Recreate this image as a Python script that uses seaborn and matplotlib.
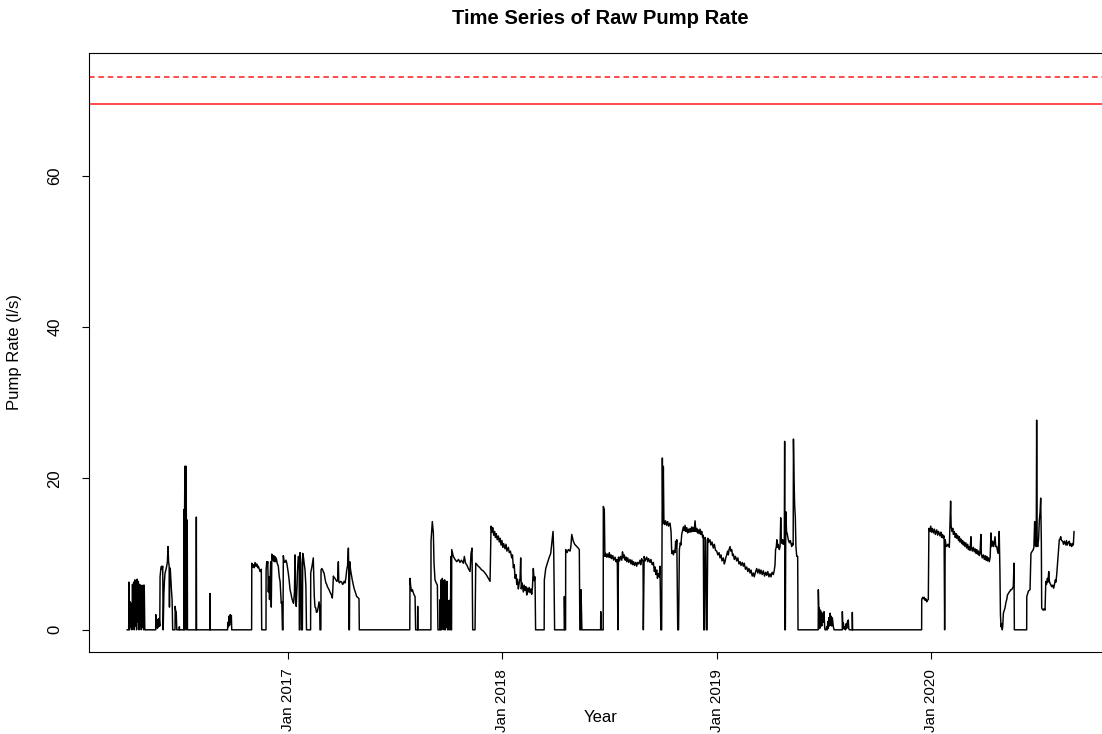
"""
Time series of raw pump rate with the two red reference levels.
"""
import numpy as np
import pandas as pd
import matplotlib
matplotlib.use('Agg')
import matplotlib.pyplot as plt
import matplotlib.dates as mdates
import seaborn as sns

# ── data: (day since 2016-01-01, pump rate l/s) ──
START = '2016-01-01'

pump_2016 = [
    (91, 0), (94, 0), (94.5, 6.3), (95.5, 0), (96.5, 3.7), (97.5, 0.4), (98.5, 3.5), (99.5, 0),
    (100.5, 6.0), (101.5, 0.8), (102.5, 6.3), (103.5, 0), (104.5, 6.6), (105.5, 0.5), (106.5, 6.2),
    (107.5, 0), (108.5, 6.7), (109.5, 1.0), (110.5, 6.4), (111.5, 0), (112.5, 6.0), (113.5, 0.5),
    (114.5, 5.9), (115.5, 0), (116.5, 5.8), (117.5, 0.3), (118.5, 5.9), (119.5, 0), (120.5, 5.9),
    (121.5, 0), (122, 0),
    (140, 0), (140.2, 2.0), (141, 0.3), (142, 1.2), (143, 0.2), (144, 1.4), (145, 0.4), (146, 1.5),
    (147, 0.5), (147.5, 7.0), (149, 8.2), (150, 8.4), (151, 8.0), (152, 8.4), (152.8, 0), (154, 4.8),
    (155, 6.5), (156, 7.5), (157, 7.8), (158, 8.1), (159, 8.5), (160, 9.0), (161, 11.0), (162, 9.0),
    (163, 8.4), (163.5, 3.0), (164, 8.2), (165, 7.9), (166, 6.5), (167, 5.1), (168, 4.0), (169, 0),
    (173, 0), (173.2, 3.1), (174, 2.5), (175, 2.4), (176, 0), (180, 0), (180.3, 0.4), (181, 0),
    (188, 0), (188.3, 15.9), (188.8, 0), (189.3, 16.0), (189.8, 21.6), (190.3, 0), (190.8, 21.6),
    (191.3, 1.0), (191.8, 21.6), (192.3, 14.5), (192.8, 0), (193.3, 14.5), (193.8, 14.5), (194.2, 0),
    (208.9, 0), (209.3, 14.9), (209.7, 0), (232.3, 0), (232.6, 4.8), (232.9, 0),
    (262.5, 0), (263, 1.0), (264, 0.4), (265, 1.8), (266, 0.6), (267, 2.0), (268, 1.0), (269, 1.9),
    (269.6, 0),
    (303.5, 0), (303.8, 8.8), (305, 8.3), (306.4, 8.6), (308, 8.2), (309.3, 8.9), (311, 8.4),
    (312.2, 8.7), (314, 8.2), (315, 8.4), (317, 7.9), (318, 7.7), (320, 8.0), (320.7, 0),
    (328, 0), (328.2, 7.9), (329.3, 9.0), (330, 8.5), (331, 9.0), (332, 5.0), (333, 7.0), (334, 4.0),
    (335, 6.6), (336, 9.0), (337, 3.0), (338, 10.0), (339, 9.5), (340, 9.2), (341, 9.8), (342, 9.0),
    (343, 9.7), (344, 9.0), (345, 9.5), (346, 9.3), (347, 8.8), (348, 8.6), (349, 8.4), (350, 7.5),
    (351, 6.8), (352, 6.4), (353, 5.0), (354, 3.5), (355, 3.7), (356, 0),
]

pump_2017 = [
    (357, 0), (357.5, 9.8), (359, 9.0), (360.5, 8.9), (362, 9.2), (363.5, 8.8), (365, 8.0), (366, 7.5),
    (367.5, 6.5), (369, 5.3), (370.5, 4.8), (372, 4.2), (373.5, 3.8), (375, 3.5), (376.5, 5.0),
    (377.5, 9.9), (378.5, 4.0), (379.5, 3.1), (381, 6.0), (381.5, 7.5), (383, 9.7), (384.5, 8.0),
    (384.8, 0), (385.5, 0), (386, 10.2), (387.5, 8.8), (388.5, 0), (390, 0), (390.6, 10.1), (392, 9.5),
    (393, 8.8), (394.5, 7.9), (396, 5.7), (397, 0), (404, 0), (404.2, 7.5), (406.4, 8.4), (408.6, 9.5),
    (409.5, 7.0), (410.3, 4.4), (411.5, 3.0), (412.8, 2.9), (414, 2.3), (415.5, 2.4), (417, 3.0),
    (418.4, 3.7), (419.5, 3.0), (420, 0), (421.5, 0), (421.8, 7.9), (423, 8.1), (424.7, 7.9),
    (426, 7.6), (427, 7.5), (428.5, 6.8), (430, 6.2), (431.5, 6.0), (432.6, 5.7), (434, 5.5),
    (435.4, 5.3), (437, 5.0), (438.3, 4.8), (440, 4.5), (441, 4.2), (442, 5.5), (442.8, 7.1),
    (444, 6.9), (445.6, 6.8), (447, 6.6), (448.5, 6.4), (450, 6.5), (451.3, 9.0), (452, 6.4),
    (453, 6.2), (455, 6.4), (457, 6.3), (458.5, 6.0), (459.8, 6.1), (461, 6.4), (462.7, 6.2),
    (464, 6.8), (465.6, 7.9), (467, 8.5), (468.4, 10.8), (469, 8.0), (469.5, 0), (470.2, 0),
    (470.7, 9.0), (472, 8.0), (473, 7.5), (475, 6.6), (476.8, 5.9), (478, 5.5), (479.7, 5.1),
    (481, 4.8), (482.6, 4.4), (484, 4.3), (485.4, 4.2), (486.5, 4.1), (487, 0),
    (573, 0), (573.4, 6.8), (574.5, 5.8), (576, 5.1), (577.5, 5.3), (579, 4.9), (580.5, 4.6),
    (582, 4.4), (583, 0), (586.3, 0), (586.5, 3.1), (586.8, 0),
    (609, 0), (609.2, 11.7), (611.4, 14.3), (613.2, 12.8), (614.3, 8.8), (616, 6.6), (618, 6.2),
    (620, 5.9), (621, 0),
    (624.5, 0), (624.8, 4.0), (625.5, 0), (626.5, 6.6), (627.5, 0), (628.5, 6.8), (629.5, 0.5),
    (630.5, 6.5), (631.5, 0), (632.5, 6.6), (633.5, 0), (634.5, 6.2), (635.5, 0.3), (636.5, 6.4),
    (637.5, 0), (638.5, 3.8), (639.5, 0), (640.5, 3.9), (641.5, 0), (642.5, 4.0), (643, 9.7),
    (643.6, 0), (644.2, 0), (644.5, 10.6),
    (647.2, 9.7), (650.1, 9.3), (653, 9.0), (656, 9.3), (658.6, 8.9), (661, 9.2), (664.3, 8.8),
    (666, 9.7), (668, 8.8), (670, 8.6), (672.8, 8.1), (675.7, 7.7), (677.4, 10.1), (679.1, 10.8),
    (680.2, 0), (684.2, 0), (685.4, 8.8), (687.5, 8.6), (689.8, 8.4), (692.5, 8.2), (695.6, 7.9),
    (698, 7.8), (701.2, 7.5), (704, 7.2), (706.8, 6.8), (709.8, 6.4),
    (711.5, 13.7), (713, 12.9), (714.4, 13.5), (716, 12.5), (717.5, 13.0), (719, 12.2),
    (720.5, 12.7), (722, 11.9), (723.9, 12.4), (725.5, 11.6), (727, 12.1), (728.5, 11.2),
    (730, 11.8),
]

pump_2018 = [
    (731.5, 10.9), (733, 11.4), (735.3, 10.7), (737, 11.3), (738.5, 10.4), (741, 10.9),
    (742.5, 10.2), (744.5, 10.4), (746.7, 9.5), (748, 9.9), (749.5, 8.2), (751, 8.6), (752.4, 6.8),
    (754, 7.3), (755.3, 6.0), (756.5, 6.7), (758, 5.4), (759.5, 6.2), (760.9, 6.8), (762, 9.5),
    (763, 5.4), (764.5, 6.2), (766.5, 5.0), (768, 5.9), (769.4, 5.2), (771, 5.7), (772.3, 4.6),
    (773.5, 5.5), (775, 5.0), (776.5, 5.6), (777.9, 4.9), (779.5, 5.4), (780.8, 4.7), (782, 5.6),
    (783.5, 8.1), (785, 6.5), (786.4, 7.0), (787.4, 0),
    (802, 0), (802.3, 6.6), (804.7, 8.1), (807.4, 8.8), (810.3, 9.5), (813.2, 10.1), (815.4, 11.7),
    (817.1, 13.0), (818.3, 10.4), (819.8, 0),
    (836.2, 0), (836.4, 4.4), (837.2, 0), (838.5, 0), (838.7, 10.6), (841, 10.2), (843.2, 10.6),
    (846.1, 10.4), (847.5, 11.0), (849, 12.6), (851.7, 11.7), (854, 11.3), (857.5, 11.0),
    (860, 10.8), (861.9, 10.6), (862.8, 0), (864.5, 0), (864.8, 5.3), (866.3, 0),
    (898.2, 0), (898.4, 2.4), (899.5, 0), (902.6, 0), (902.8, 16.3), (904.5, 15.9), (905.5, 9.7),
    (907, 10.1), (908.5, 9.6), (910, 10.0), (911.3, 9.6), (913, 10.2), (914.5, 9.5), (916, 9.9),
    (917.1, 9.4), (919, 9.8), (920.5, 9.2), (922.8, 9.6), (924.5, 9.0), (926, 9.3), (926.7, 8.6),
    (927.6, 0), (928.6, 9.6), (930.5, 9.1), (932, 9.7), (934.2, 9.2), (935.5, 10.3), (936.9, 9.5),
    (938.5, 9.9), (940, 9.2), (941.5, 9.6), (942.7, 9.0), (944.5, 9.5), (946, 8.9), (948.3, 9.3),
    (950, 8.7), (951.5, 9.2), (953, 8.6), (954.5, 9.0), (956, 8.5), (958, 8.9), (959.7, 8.4),
    (961, 8.9), (963, 8.7), (965.4, 9.2), (966.5, 8.6), (968.2, 9.4), (970.5, 9.0), (971, 0),
    (972.4, 9.7), (974, 9.1), (976.8, 9.6), (978.5, 9.0), (980, 9.4), (982.4, 8.9), (984, 9.3),
    (986, 8.6), (988.1, 8.9), (989.8, 7.7), (991, 8.3), (992.5, 7.3), (993.8, 7.9), (995, 6.8),
    (996.5, 7.4), (998, 7.0), (999.4, 8.4), (1000.8, 0), (1002.2, 0), (1003.4, 22.7), (1004.3, 14.0),
    (1005.1, 21.6), (1006, 14.6), (1007.5, 13.9), (1009, 14.4), (1010.8, 13.8), (1012.5, 14.3),
    (1014, 13.7), (1016.5, 14.1), (1018.2, 13.0), (1019.4, 10.1), (1020.5, 10.4), (1022.2, 9.9),
    (1023.5, 10.5), (1025, 10.2), (1026, 11.7), (1027, 10.8), (1028, 11.9), (1029.6, 0), (1031, 0),
    (1032.4, 10.6), (1034, 11.5), (1035, 11.2), (1036.4, 12.6), (1037.8, 13.1), (1039.2, 13.6),
    (1040.5, 13.1), (1042.1, 13.8), (1043.5, 13.0), (1045, 13.5), (1046.5, 12.8), (1047.7, 13.3),
    (1049, 12.9), (1050.6, 13.4), (1052, 12.9), (1053.5, 13.6), (1055, 13.0), (1056.2, 13.5),
    (1057.5, 13.0), (1059.1, 14.4), (1060.5, 13.0), (1062, 13.4), (1063.3, 12.8), (1064.7, 13.2),
    (1066, 12.7), (1067.6, 13.3), (1069, 12.6), (1070.5, 13.0), (1072, 12.2), (1073.2, 12.5),
    (1074, 0), (1075, 0), (1076.2, 12.2), (1077.5, 11.8), (1078.5, 0), (1079.5, 0), (1080.8, 12.1),
    (1082.5, 11.6), (1084.6, 11.9), (1086, 11.2), (1088, 11.6), (1090.2, 10.8), (1092, 11.3),
    (1094, 10.5),
]

pump_2019 = [
    (1096, 10.4), (1098, 9.9), (1100, 10.2), (1101.7, 9.5), (1103.5, 9.9), (1105, 9.1),
    (1107.4, 9.5), (1109, 8.7), (1110.2, 9.0), (1111.5, 9.5), (1113.1, 9.9), (1114.5, 10.4),
    (1115.9, 9.9), (1117, 10.6), (1118.7, 11.0), (1120, 10.4), (1121.6, 10.6), (1123, 9.8),
    (1124.4, 10.0), (1126, 9.3), (1128, 9.7), (1130.1, 9.1), (1132, 9.5), (1134, 8.7),
    (1135.8, 9.0), (1137.5, 8.5), (1139.5, 8.9), (1141.4, 8.4), (1143, 8.8), (1145, 8.0),
    (1147.2, 8.3), (1149, 7.7), (1151, 8.1), (1152.8, 7.5), (1154.5, 7.9), (1156.5, 7.1),
    (1158.4, 7.5), (1160, 7.0), (1162, 7.6), (1164.2, 8.1), (1166, 7.5), (1168, 8.0), (1169.8, 7.4),
    (1171.5, 7.9), (1173.5, 7.3), (1175.5, 7.8), (1177.5, 7.1), (1179.5, 7.6), (1181.2, 7.2),
    (1183, 7.7), (1185, 7.0), (1186.9, 7.4), (1188.5, 7.0), (1190.5, 7.6), (1192.5, 7.3),
    (1194, 7.8), (1195.4, 8.6), (1196.3, 10.6), (1197.5, 10.9), (1198.5, 11.9), (1199.5, 10.9),
    (1200.8, 11.3), (1202.7, 10.6), (1204, 11.0), (1205.1, 14.8), (1206, 11.9), (1207.5, 11.4),
    (1208.5, 11.9), (1209.6, 11.3), (1211.2, 11.6), (1211.8, 24.9), (1212.3, 0), (1213, 0),
    (1213.8, 15.6), (1215, 13.0), (1216.4, 12.6), (1218, 11.9), (1219.8, 11.5), (1221.5, 11.8),
    (1223.8, 11.0), (1225, 11.4), (1226.3, 11.2), (1226.8, 25.2), (1227.8, 19.8), (1228.8, 16.5),
    (1230, 14.8), (1231, 11.0), (1232.4, 9.7), (1234, 9.7), (1234.6, 0),
    (1269, 0), (1269.2, 5.3), (1270, 2.8), (1270.9, 2.9), (1271.7, 0.2), (1272.5, 2.6),
    (1273.8, 2.4), (1275, 0.5), (1275.8, 2.2), (1276.7, 2.2), (1278, 1.0), (1278.9, 2.4),
    (1280, 0.3), (1280.6, 0), (1282.5, 0), (1283.5, 0.4), (1284.5, 0), (1285.3, 1.1), (1286.2, 0.2),
    (1287, 1.6), (1288, 0.5), (1289.1, 2.2), (1290, 0.6), (1291, 1.8), (1292, 0.5), (1293, 1.6),
    (1294.8, 0.4), (1296, 0), (1310, 0), (1310.1, 2.4), (1311, 0.2), (1311.8, 0.9), (1313, 0.1),
    (1314.7, 0.4), (1315.5, 0), (1316.5, 0.8), (1317.6, 0.2), (1318.5, 1.0), (1320.3, 1.3),
    (1321, 0.2), (1322, 0), (1327, 0), (1327.1, 2.3), (1327.6, 0),
    (1445.2, 0), (1445.4, 4.0), (1447, 4.3), (1448.1, 4.1), (1449.5, 4.3), (1451, 3.9),
    (1452.5, 4.1), (1453.9, 3.7), (1455, 3.9), (1456.6, 4.0), (1457.6, 13.4), (1459, 13.0),
]

pump_2020 = [
    (1460.7, 13.7), (1462, 12.9), (1463.5, 13.4), (1465.2, 12.8), (1467, 13.3), (1468.5, 12.6),
    (1470.9, 13.2), (1472.5, 12.5), (1474, 13.0), (1476.6, 12.4), (1478, 12.9), (1479.5, 12.2),
    (1481, 12.6), (1482.2, 12.1), (1483.5, 12.4), (1484.4, 0), (1485.4, 11.9), (1486.5, 11.3),
    (1488, 11.0), (1490, 11.3), (1492.4, 10.9), (1494.6, 17.0), (1495.5, 13.7), (1497, 13.0),
    (1498.3, 13.4), (1499.3, 12.6), (1501, 13.0), (1502.5, 12.2), (1504, 12.7), (1505, 12.1),
    (1506.5, 12.5), (1508, 11.8), (1509.5, 12.3), (1510.6, 11.6), (1512, 12.0), (1513.5, 11.4),
    (1515, 11.8), (1516.2, 11.2), (1517.5, 11.6), (1519, 11.0), (1520.5, 11.5), (1522.1, 10.8),
    (1523.5, 11.3), (1525, 10.6), (1526.5, 11.0), (1527.7, 10.5), (1529.3, 12.3), (1530, 10.9),
    (1531.5, 10.4), (1533.3, 10.9), (1535, 10.3), (1536.5, 10.7), (1538, 10.1), (1539.1, 10.6),
    (1540.5, 10.0), (1542, 10.4), (1543.5, 9.8), (1544.7, 10.2), (1546.2, 12.6), (1547, 10.0),
    (1548.5, 9.5), (1550.4, 9.9), (1552, 9.3), (1553.5, 9.8), (1555, 9.2), (1556.1, 9.7),
    (1557.5, 9.1), (1559, 9.5), (1560.5, 9.0), (1562, 9.6), (1563.4, 12.8), (1564.5, 11.0),
    (1566.3, 11.7), (1568, 11.0), (1570.3, 12.3), (1571.5, 11.0), (1573.2, 11.0), (1574.5, 10.4),
    (1575.8, 10.1), (1577.4, 13.0), (1578.6, 7.9), (1579.5, 2.0), (1580.5, 0.4), (1581.5, 0.8),
    (1582.7, 0), (1583.5, 0.6), (1584.5, 2.2), (1586, 2.6), (1587.3, 2.9), (1588.8, 3.6),
    (1590.2, 4.0), (1591.5, 4.6), (1592.9, 4.8), (1594.5, 5.0), (1595.8, 5.1), (1597, 5.3),
    (1598.7, 5.3), (1600, 5.5), (1601.4, 5.7), (1602.6, 8.8), (1603.2, 0), (1624.2, 0),
    (1624.4, 4.4), (1626, 4.8), (1627, 5.1), (1628.5, 5.2), (1629.9, 5.3), (1631.5, 10.1),
    (1633, 10.3), (1635.5, 10.6), (1636.5, 10.9), (1637.8, 14.3), (1638.8, 11.2), (1640.5, 11.0),
    (1641.2, 27.7), (1642, 11.5), (1643, 11.0), (1644.5, 12.0), (1645.8, 14.5), (1647, 15.5),
    (1648.1, 17.4), (1649.2, 11.5), (1649.8, 2.9), (1651, 2.7), (1652.6, 2.6), (1654, 2.8),
    (1655.5, 2.6), (1656.8, 6.4), (1658, 6.0), (1659.5, 6.8), (1660.5, 6.3), (1661.8, 7.7),
    (1662.8, 6.5), (1664, 6.1), (1665.2, 6.0), (1666.5, 5.7), (1668.6, 5.9), (1670, 5.5),
    (1670.8, 5.7), (1672, 6.2), (1673.1, 6.6), (1674, 6.3), (1675.4, 7.3), (1676.5, 8.5),
    (1677.6, 9.9), (1678.8, 11.0), (1679.8, 11.9), (1681, 12.0), (1682.2, 12.3), (1683.5, 11.8),
    (1685.6, 11.7), (1687, 11.3), (1688.5, 11.7), (1689.5, 11.5), (1691, 11.2), (1692, 11.8),
    (1693.5, 11.2), (1695, 11.5), (1696.9, 11.7), (1698, 11.1), (1699.5, 11.4), (1701, 11.0),
    (1702.5, 11.4), (1703.7, 11.2), (1704.9, 13.0),
]

# reference levels (red lines)
LIMIT_SOLID = 69.5
LIMIT_DASHED = 73.0

# ── build frame ──
df = pd.DataFrame(pump_2016 + pump_2017 + pump_2018 + pump_2019 + pump_2020,
                  columns=['day', 'rate'])
df['date'] = pd.Timestamp(START) + pd.to_timedelta(df['day'], unit='D')

# ── style ──
sns.set_style('ticks')
plt.rcParams['font.family'] = ['Liberation Sans', 'DejaVu Sans']
plt.rcParams['text.color'] = 'black'
plt.rcParams['axes.labelcolor'] = 'black'

fig = plt.figure(figsize=(11.02, 7.34), dpi=100)
W, H = 1102, 734
ax_left, ax_right, ax_top, ax_bot = 89, 1112, 53, 652
ax = fig.add_axes([ax_left / W, (H - ax_bot) / H,
                   (ax_right - ax_left) / W, (ax_bot - ax_top) / H])

sns.lineplot(data=df, x='date', y='rate', estimator=None, sort=False,
             color='black', linewidth=1.05, ax=ax)

ax.axhline(LIMIT_SOLID, color='#ff3535', linewidth=1.25)
ax.axhline(LIMIT_DASHED, color='#ff3535', linewidth=1.25, linestyle=(0, (3.2, 2.2)))

ax.set_xlim(pd.Timestamp(START) + pd.Timedelta(days=26.4),
            pd.Timestamp(START) + pd.Timedelta(days=1769.6))
ax.set_ylim(-2.93, 76.2)
ax.set_yticks([0, 20, 40, 60])
ax.xaxis.set_major_locator(mdates.YearLocator())
ax.xaxis.set_major_formatter(mdates.DateFormatter('%b %Y'))

for s in ax.spines.values():
    s.set_color('black')
    s.set_linewidth(0.8)

ax.tick_params(axis='both', direction='out', length=5, width=0.8, color='black',
               labelsize=12, labelcolor='black')
ax.tick_params(axis='x', pad=7, labelrotation=90, labelsize=11)
ax.tick_params(axis='y', pad=14)
for lab in ax.get_yticklabels():
    lab.set_rotation(90)
    lab.set_va('center')

ax.set_xlabel('Year', fontsize=12, va='center', color='black')
ax.set_ylabel('Pump Rate (l/s)', fontsize=12, va='center', color='black')
ax.xaxis.set_label_coords(0.5, -(717 - ax_bot) / (ax_bot - ax_top))
ax.yaxis.set_label_coords(-(ax_left - 15) / (ax_right - ax_left), 0.5)
ax.set_title('Time Series of Raw Pump Rate', fontsize=14.6, fontweight='bold',
             pad=21, color='black')

fig.savefig('out.png', dpi=100, facecolor='white')
plt.close(fig)
